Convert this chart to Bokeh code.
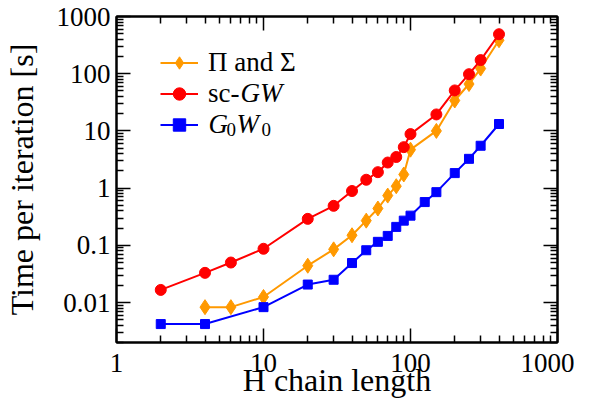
from bokeh.plotting import figure
from bokeh.models import (LogAxis, FixedTicker, CustomJSTickFormatter, Legend, LegendItem, Label)
from bokeh.embed import file_html
from bokeh.resources import INLINE

# ---- data ----
pi_sigma_n = [4, 6, 10, 20, 30, 40, 50, 60, 70, 80, 90, 100, 150, 200, 250, 300, 400]
pi_sigma_t = [0.0083, 0.0083, 0.0125, 0.044, 0.085, 0.15, 0.27, 0.44, 0.74, 1.08, 1.73, 4.7, 10.0, 34, 66, 123, 385]

scgw_n = [2, 4, 6, 10, 20, 30, 40, 50, 60, 70, 80, 90, 100, 150, 200, 250, 300, 400]
scgw_t = [0.0166, 0.033, 0.050, 0.087, 0.29, 0.49, 0.89, 1.4, 1.9, 2.8, 3.5, 5.2, 8.8, 19.4, 51, 98, 173, 490]

g0w0_n = [2, 4, 10, 20, 30, 40, 50, 60, 70, 80, 90, 100, 125, 150, 200, 250, 300, 400]
g0w0_t = [0.0042, 0.0042, 0.0083, 0.0206, 0.025, 0.049, 0.082, 0.115, 0.146, 0.21, 0.27, 0.33, 0.57, 0.85, 1.83, 3.25, 5.5, 13.2]

x_major = [1, 10, 100, 1000]
y_major = [0.01, 0.1, 1, 10, 100, 1000]
x_minor = [m * d for d in [1, 10, 100] for m in range(2, 10)]
y_minor = [m * d for d in [0.001, 0.01, 0.1, 1, 10, 100] for m in range(2, 10)]

ORANGE = "#FF9900"
RED = "#FF0000"
BLUE = "#0000FF"
FONT = "Liberation Serif"

p = figure(width=574, height=407, x_axis_type="log", y_axis_type="log",
           x_range=(1, 1000), y_range=(0.002, 1000),
           output_backend="svg", toolbar_location=None,
           min_border_left=112, min_border_right=17, min_border_top=16, min_border_bottom=65)
p.xgrid.visible = False
p.ygrid.visible = False
p.outline_line_color = "black"
p.outline_line_width = 2

fmt = CustomJSTickFormatter(code="return String(Number(tick.toPrecision(3)));")
blank = CustomJSTickFormatter(code="return '';")


def style_axis(ax, major, minor, labels=True):
    ax.ticker = FixedTicker(ticks=major, minor_ticks=minor)
    ax.formatter = fmt if labels else blank
    ax.axis_line_width = 2
    ax.major_tick_in = 14
    ax.major_tick_out = 0
    ax.minor_tick_in = 7
    ax.minor_tick_out = 0
    ax.major_tick_line_width = 1.5
    ax.minor_tick_line_width = 1.5
    ax.major_label_text_font = FONT
    ax.major_label_text_font_size = "27px" if labels else "0px"
    ax.major_label_text_color = "black"
    ax.axis_label_text_font = FONT
    ax.axis_label_text_font_size = "32px"
    ax.axis_label_text_font_style = "normal"
    ax.axis_label_text_color = "black"


style_axis(p.xaxis[0], x_major, x_minor)
style_axis(p.yaxis[0], y_major, y_minor)
p.xaxis[0].axis_label = "H chain length"
p.yaxis[0].axis_label = "Time per iteration [s]"
p.xaxis[0].major_label_standoff = 11
p.xaxis[0].axis_label_standoff = -13
p.yaxis[0].major_label_standoff = 6
p.yaxis[0].axis_label_standoff = 14

top_ax = LogAxis()
style_axis(top_ax, x_major, x_minor, labels=False)
top_ax.major_label_standoff = 0
p.add_layout(top_ax, "above")
right_ax = LogAxis()
style_axis(right_ax, y_major, y_minor, labels=False)
right_ax.major_label_standoff = 0
p.add_layout(right_ax, "right")

l1 = p.line(pi_sigma_n, pi_sigma_t, color=ORANGE, line_width=2)
s1 = p.scatter(pi_sigma_n, pi_sigma_t, marker="diamond", size=15, color=ORANGE)
l2 = p.line(scgw_n, scgw_t, color=RED, line_width=2)
s2 = p.scatter(scgw_n, scgw_t, marker="circle", size=11, color=RED)
l3 = p.line(g0w0_n, g0w0_t, color=BLUE, line_width=2)
s3 = p.scatter(g0w0_n, g0w0_t, marker="square", size=9, color=BLUE)

legend = Legend(items=[
    LegendItem(label="Π and Σ", renderers=[l1, s1]),
    LegendItem(label="sc-", renderers=[l2, s2]),
    LegendItem(label="", renderers=[l3, s3]),
], location=(44, 202))
legend.margin = 0
legend.padding = 0
legend.spacing = -4
legend.glyph_width = 38
legend.glyph_height = 31
legend.label_height = 31
legend.label_standoff = 10
legend.label_text_font = FONT
legend.label_text_font_size = "27px"
legend.label_text_color = "black"
legend.border_line_alpha = 0
legend.background_fill_alpha = 0
p.add_layout(legend, "center")

common = dict(x_units="screen", y_units="screen", text_font=FONT, text_color="black")
p.add_layout(Label(x=124, y=250, text="GW", text_font_size="27px", text_font_style="italic",
                   text_baseline="middle", **common))
p.add_layout(Label(x=92, y=219, text="G", text_font_size="27px", text_font_style="italic",
                   text_baseline="middle", **common))
p.add_layout(Label(x=110, y=213, text="0", text_font_size="19px",
                   text_baseline="middle", **common))
p.add_layout(Label(x=120, y=219, text="W", text_font_size="27px", text_font_style="italic",
                   text_baseline="middle", **common))
p.add_layout(Label(x=145, y=213, text="0", text_font_size="19px",
                   text_baseline="middle", **common))

open("out.html", "w").write(file_html(p, INLINE))
